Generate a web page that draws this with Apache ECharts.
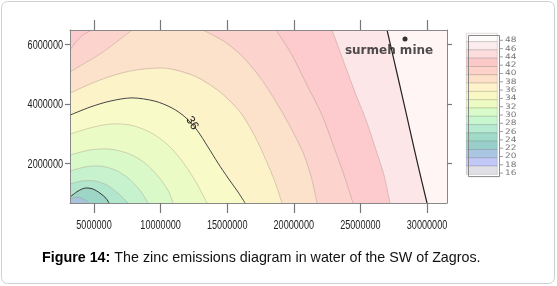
<!DOCTYPE html>
<html>
<head>
<meta charset="utf-8">
<script src="https://cdn.jsdelivr.net/npm/echarts@6/dist/echarts.min.js"></script>
<style>
html, body { margin: 0; padding: 0; background: #fff; }
#chart { width: 557px; height: 286px; }
</style>
</head>
<body>
<div id="chart"></div>
<script>
// axis ticks and range, in millions
var xTicks = [5, 10, 15, 20, 25, 30]
var yTicks = [2, 4, 6]
var xRange = [3.2, 31.5]
var yRange = [0.67, 6.48]

// contour lines, [x, y] in millions
var c46 = [[27.00, 6.48], [27.52, 5.47], [28.12, 4.30], [28.72, 3.12], [29.32, 1.94], [30.00, 0.67]]
var c44 = [[22.87, 6.48], [23.84, 5.30], [24.67, 4.30], [25.42, 3.46], [26.17, 2.45], [26.77, 1.61], [27.22, 0.67]]
var c42 = [[18.66, 6.48], [19.86, 5.64], [20.99, 4.63], [22.12, 3.62], [23.09, 2.45], [23.84, 1.51], [24.44, 0.67]]
var c42corner = [[3.20, 5.81], [3.65, 6.08], [4.17, 6.31], [4.85, 6.48]]
var c40 = [[13.18, 6.48], [14.83, 6.08], [16.19, 5.57], [17.61, 4.80], [18.81, 3.96], [19.86, 3.12], [20.77, 2.28], [21.37, 1.44], [21.74, 0.67]]
var c40left = [[3.20, 5.07], [4.32, 5.37], [5.45, 5.67], [6.58, 6.04], [7.85, 6.48]]
var c38 = [[3.20, 4.36], [5.45, 4.80], [7.70, 5.10], [10.33, 5.20], [12.58, 4.93], [14.46, 4.40], [15.96, 3.73], [17.09, 2.90], [17.91, 2.11], [18.59, 1.37], [19.11, 0.67]]
var c36 = [[3.20, 3.62], [4.70, 3.89], [6.20, 4.09], [7.85, 4.20], [9.58, 4.09], [10.86, 3.86], [11.83, 3.56], [12.73, 3.12], [13.56, 2.55], [14.31, 2.01], [15.06, 1.51], [15.81, 1.04], [16.34, 0.67]]
var c34 = [[3.20, 2.98], [4.70, 3.19], [6.20, 3.32], [7.70, 3.29], [9.20, 3.05], [10.56, 2.62], [11.68, 2.04], [12.66, 1.37], [13.48, 0.67]]
var c32 = [[3.20, 2.28], [4.70, 2.45], [6.20, 2.48], [7.70, 2.31], [8.83, 2.01], [9.80, 1.57], [10.56, 1.10], [10.93, 0.67]]
var c30 = [[3.20, 1.74], [4.32, 1.88], [5.45, 1.91], [6.58, 1.78], [7.55, 1.51], [8.45, 1.10], [9.05, 0.67]]
var c28 = [[3.20, 1.31], [4.10, 1.41], [5.08, 1.41], [5.98, 1.27], [6.80, 1.00], [7.55, 0.67]]
var c26 = [[3.20, 0.87], [3.80, 1.07], [4.32, 1.17], [4.92, 1.14], [5.45, 1.00], [5.90, 0.83], [6.13, 0.67]]
var c24 = [[3.20, 0.80], [3.80, 0.87], [4.32, 0.77], [4.62, 0.67]]

// label on the 36 line and the mine
var label36 = [[12.36, 3.35, '36']]
var mine = [[28.35, 6.18]]

// colour key
var keyLabels = [48, 46, 44, 42, 40, 38, 36, 34, 32, 30, 28, 26, 24, 22, 20, 18, 16]
var keyColors = ['#fefbfb', '#fdeced', '#fcdcdc', '#fcc9c9', '#fdd2c9', '#fde1c9', '#fdf2c9', '#f9f8c2',
    '#ecfbc2', '#d9fbc9', '#c8f6cf', '#b6ead1', '#a0dbc9', '#98cfcb', '#a9c6e2', '#c2c8f7', '#e0e0e6']

var fontAxis = "'Liberation Sans', Arial, sans-serif"

// filled areas, painted from top-right to bottom-left
function lowPoly (line) {
    var pts = line.slice()
    pts.push([xRange[0], yRange[0]])
    if (line[0][1] >= yRange[1]) pts.push([xRange[0], yRange[1]])
    return pts
}
function highPoly (line) {
    return line.concat([[xRange[0], yRange[1]]])
}
var regions = [
    { pts: [[xRange[0], yRange[0]], [xRange[1], yRange[0]], [xRange[1], yRange[1]], [xRange[0], yRange[1]]], color: '#fff5f5' },
    { pts: lowPoly(c46), color: '#fde6e8' },
    { pts: lowPoly(c44), color: '#fdcacd' },
    { pts: lowPoly(c42), color: '#fdd4cd' },
    { pts: lowPoly(c40), color: '#fde2cb' },
    { pts: highPoly(c40left), color: '#fdd4cd' },
    { pts: highPoly(c42corner), color: '#fdcacd' },
    { pts: lowPoly(c38), color: '#fdf3c9' },
    { pts: lowPoly(c36), color: '#f8fbc8' },
    { pts: lowPoly(c34), color: '#eafbc5' },
    { pts: lowPoly(c32), color: '#d9f9c9' },
    { pts: lowPoly(c30), color: '#c6f2cd' },
    { pts: lowPoly(c28), color: '#b2e6cd' },
    { pts: lowPoly(c26), color: '#9dd5c7' },
    { pts: lowPoly(c24), color: '#a9c3dc' }
]
var thin = 'rgba(150,135,120,0.45)'
var lines = [
    { pts: c46, color: '#222', width: 1.2 },
    { pts: c44, color: thin, width: 0.8 },
    { pts: c42, color: thin, width: 0.8 },
    { pts: c42corner, color: thin, width: 0.8 },
    { pts: c40, color: thin, width: 0.8 },
    { pts: c40left, color: thin, width: 0.8 },
    { pts: c38, color: thin, width: 0.8 },
    { pts: c36, color: '#444', width: 1 },
    { pts: c34, color: thin, width: 0.8 },
    { pts: c32, color: thin, width: 0.8 },
    { pts: c30, color: thin, width: 0.8 },
    { pts: c28, color: thin, width: 0.8 },
    { pts: c26, color: '#333', width: 1 },
    { pts: c24, color: thin, width: 0.8 }
]

// key drawn beside the plot
var keyGraphics = []
var keyTop = 33, keyH = 8.3
keyLabels.forEach(function (lab, i) {
    keyGraphics.push({
        type: 'rect', left: 466, top: keyTop + i * keyH,
        shape: { width: 31, height: keyH },
        style: { fill: keyColors[i], stroke: 'rgba(0,0,0,0.22)', lineWidth: 0.6 }
    })
    keyGraphics.push({
        type: 'line', shape: { x1: 500, y1: keyTop + (i + 1) * keyH - 1, x2: 503, y2: keyTop + (i + 1) * keyH - 1 },
        style: { stroke: '#888', lineWidth: 0.8 }
    })
    keyGraphics.push({
        type: 'text', x: 505, y: keyTop + (i + 1) * keyH - 1, scaleX: 1.2,
        style: { text: String(lab), fontSize: 7.5, fontFamily: 'DejaVu Sans', fill: '#777', verticalAlign: 'middle' }
    })
})
keyGraphics.push({
    type: 'rect', left: 466, top: keyTop,
    shape: { width: 31, height: keyH * keyLabels.length },
    style: { fill: 'none', stroke: '#888', lineWidth: 1 }
})
keyGraphics.push({
    type: 'rect', shape: { x: 1.5, y: 1.5, width: 553, height: 282, r: 6 },
    style: { fill: 'none', stroke: '#cfcfcf', lineWidth: 1 }
})

var chart = echarts.init(document.getElementById('chart'))
function fmt (v) { return String(Math.round(v * 1000000)) }
function axisX (pos) {
    return {
        type: 'value', position: pos, min: xRange[0], max: xRange[1], z: 10,
        axisLine: { show: true, onZero: false, lineStyle: { color: '#888', width: 1 } },
        axisTick: { show: true, customValues: xTicks, length: 10, lineStyle: { color: '#777', width: 1.2 } },
        axisLabel: { show: false },
        splitLine: { show: false }
    }
}
function axisY (pos) {
    return {
        type: 'value', position: pos, min: yRange[0], max: yRange[1], z: 10,
        axisLine: { show: true, onZero: false, lineStyle: { color: '#888', width: 1 } },
        axisTick: { show: true, customValues: yTicks, length: 5, lineStyle: { color: '#777', width: 1.2 } },
        axisLabel: { show: false },
        splitLine: { show: false }
    }
}
// narrow tick labels: squeezed horizontally like the original
var tickLabelStyle = { fontSize: 13, fontFamily: fontAxis, fill: '#222', verticalAlign: 'middle' }
var option = {
    animation: false,
    grid: { left: 70, top: 30, width: 377, height: 173 },
    xAxis: [axisX('bottom'), axisX('top')],
    yAxis: [axisY('left'), axisY('right')],
    title: {
        text: '{b|Figure 14:} The zinc emissions diagram in water of the SW of Zagros.',
        left: 42, top: 251, padding: 0,
        textStyle: {
            fontSize: 14.3, fontWeight: 'normal', color: '#111', fontFamily: fontAxis,
            rich: { b: { fontSize: 14.3, fontWeight: 'bold', color: '#000', fontFamily: fontAxis } }
        }
    },
    graphic: keyGraphics,
    series: [
        {
            type: 'custom', coordinateSystem: 'cartesian2d', xAxisIndex: 0, yAxisIndex: 0, silent: true, z: 1,
            data: regions.map(function (r, i) { return [i] }),
            renderItem: function (params, api) {
                var r = regions[params.dataIndex]
                return {
                    type: 'polygon',
                    shape: { points: r.pts.map(function (p) { return api.coord(p) }) },
                    style: { fill: r.color }
                }
            }
        },
        {
            type: 'custom', coordinateSystem: 'cartesian2d', xAxisIndex: 0, yAxisIndex: 0, silent: true, z: 2,
            data: lines.map(function (l, i) { return [i] }),
            renderItem: function (params, api) {
                var l = lines[params.dataIndex]
                return {
                    type: 'polyline',
                    shape: { points: l.pts.map(function (p) { return api.coord(p) }), smooth: 0.3 },
                    style: { fill: null, stroke: l.color, lineWidth: l.width }
                }
            }
        },
        {
            type: 'custom', coordinateSystem: 'cartesian2d', xAxisIndex: 0, yAxisIndex: 0, silent: true, z: 3,
            data: label36,
            renderItem: function (params, api) {
                var p = api.coord([api.value(0), api.value(1)])
                return {
                    type: 'text', x: p[0], y: p[1], rotation: -1.0,
                    style: { text: String(label36[params.dataIndex][2]), fontSize: 12, fontFamily: fontAxis, fill: '#222', align: 'center', verticalAlign: 'middle' }
                }
            }
        },
        {
            // x tick labels
            type: 'custom', coordinateSystem: 'cartesian2d', xAxisIndex: 0, yAxisIndex: 0, silent: true, z: 5,
            data: xTicks.map(function (v) { return [v] }),
            renderItem: function (params, api) {
                var p = api.coord([api.value(0), yRange[0]])
                return {
                    type: 'text', x: p[0], y: p[1] + 22, scaleX: 0.7,
                    style: Object.assign({ text: fmt(api.value(0)), align: 'center' }, tickLabelStyle)
                }
            }
        },
        {
            // y tick labels
            type: 'custom', coordinateSystem: 'cartesian2d', xAxisIndex: 0, yAxisIndex: 0, silent: true, z: 5,
            data: yTicks.map(function (v) { return [xRange[0], v] }),
            renderItem: function (params, api) {
                var p = api.coord([xRange[0], api.value(1)])
                return {
                    type: 'text', x: p[0] - 7, y: p[1] + 1, scaleX: 0.7,
                    style: Object.assign({ text: fmt(api.value(1)), align: 'right' }, tickLabelStyle)
                }
            }
        },
        {
            type: 'scatter', xAxisIndex: 0, yAxisIndex: 0, z: 4, silent: true,
            data: mine, symbolSize: 5, itemStyle: { color: '#000' },
            label: { show: true, position: 'inside', offset: [-16, 12], formatter: 'surmeh mine', fontSize: 12, fontWeight: 'bold', fontFamily: 'DejaVu Sans', color: '#222' }
        }
    ]
}
chart.setOption(option)
</script>
</body>
</html>
